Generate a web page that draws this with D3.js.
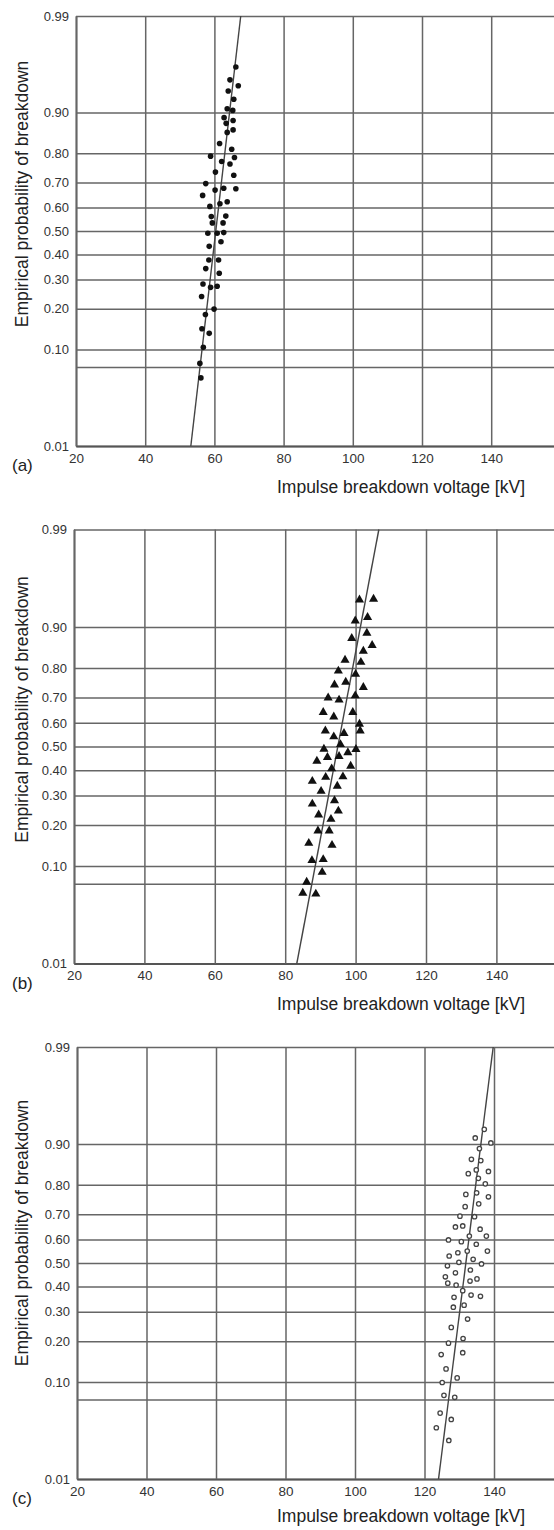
<!DOCTYPE html>
<html>
<head>
<meta charset="utf-8">
<script src="https://cdn.jsdelivr.net/npm/d3@7"></script>
<style>
  body { margin: 0; background: #fff; }
  svg { display: block; font-family: "Liberation Sans", Arial, Helvetica, sans-serif; }
  .axis text { fill: #333; }
  .axis .tick line, .grid { stroke: #666; stroke-width: 1.5; }
  .axis .domain { stroke: #555; stroke-width: 1.8; }
  .fit { stroke: #444; stroke-width: 1.4; fill: none; }
  .title { fill: #222; font-size: 17.5px; }
  .panel-label { fill: #222; font-size: 17px; }
</style>
</head>
<body>
<svg id="chart" width="554" height="1530"></svg>
<script>
/* global d3*/
// tick values
var probTicks = [0.01, 0.10, 0.20, 0.30, 0.40, 0.50, 0.60, 0.70, 0.80, 0.90, 0.99];
var probLabels = ["0.01", "0.10", "0.20", "0.30", "0.40", "0.50", "0.60", "0.70", "0.80", "0.90", "0.99"];
var extraGrid = [0.07];
var voltTicks = [20, 40, 60, 80, 100, 120, 140];
var panelNames = ["(a)", "(b)", "(c)"];

// (a) dots
var voltageA = [66.2, 64.5, 66.9, 64.0, 65.6, 63.7, 65.3, 62.8, 65.4, 63.4, 63.7, 65.4, 61.5, 65.0, 58.9, 65.8,
    62.1, 64.5, 60.3, 65.6, 57.5, 60.2, 62.7, 66.2, 56.6, 63.7, 58.7, 61.6, 59.1, 63.3, 59.4, 62.5, 58.1, 60.8,
    62.7, 61.9, 58.5, 58.4, 61.2, 57.5, 61.4, 56.7, 58.9, 60.8, 56.3, 59.9, 57.4, 56.4, 58.5, 56.8, 55.8, 56.1];
var probA = [0.962, 0.949, 0.942, 0.935, 0.923, 0.907, 0.904, 0.890, 0.884, 0.878, 0.857, 0.863, 0.828, 0.812,
    0.791, 0.787, 0.774, 0.766, 0.738, 0.727, 0.696, 0.671, 0.678, 0.676, 0.650, 0.624, 0.605, 0.616, 0.562,
    0.564, 0.535, 0.535, 0.490, 0.490, 0.493, 0.454, 0.434, 0.377, 0.377, 0.342, 0.324, 0.283, 0.271, 0.275,
    0.239, 0.199, 0.183, 0.145, 0.134, 0.104, 0.076, 0.056];

// (b) triangles
var voltageB = [101.1, 105.1, 99.9, 103.4, 103.2, 98.9, 104.7, 102.2, 97.0, 101.5, 95.1, 100.0, 94.0, 97.2, 102.2,
    92.2, 95.3, 99.9, 90.8, 93.8, 99.2, 101.1, 101.3, 91.4, 93.8, 96.7, 95.7, 91.0, 100.1, 89.0, 92.0, 95.3, 97.8,
    98.6, 93.2, 87.7, 91.5, 96.4, 90.2, 94.8, 94.0, 87.7, 95.1, 89.5, 93.0, 89.3, 92.5, 86.7, 93.3, 87.6, 90.8,
    90.5, 86.1, 85.0, 88.7];
var probB = [0.942, 0.943, 0.911, 0.917, 0.888, 0.877, 0.861, 0.847, 0.823, 0.817, 0.791, 0.781, 0.746, 0.755,
    0.737, 0.699, 0.691, 0.707, 0.643, 0.625, 0.643, 0.595, 0.567, 0.567, 0.542, 0.556, 0.509, 0.489, 0.488,
    0.438, 0.454, 0.458, 0.474, 0.417, 0.406, 0.355, 0.371, 0.373, 0.316, 0.336, 0.281, 0.269, 0.245, 0.232,
    0.218, 0.183, 0.183, 0.150, 0.145, 0.111, 0.113, 0.089, 0.073, 0.058, 0.057];

// (c) open circles
var voltageC = [137.2, 134.6, 139.1, 135.8, 133.5, 136.2, 132.6, 134.9, 138.4, 135.5, 137.5, 131.9, 135.0, 138.4,
    131.7, 135.6, 130.2, 134.4, 128.9, 131.0, 136.0, 132.9, 137.8, 126.9, 130.6, 134.9, 132.3, 138.1, 127.1,
    129.6, 134.0, 129.9, 136.4, 126.6, 133.2, 128.9, 126.0, 126.7, 129.1, 133.1, 135.1, 131.0, 133.4, 136.1,
    128.5, 131.4, 128.3, 132.4, 127.7, 131.1, 126.9, 131.0, 124.8, 126.2, 129.4, 125.1, 125.6, 128.7, 124.5,
    127.7, 123.4, 127.0];
var probC = [0.925, 0.911, 0.902, 0.891, 0.868, 0.865, 0.832, 0.842, 0.838, 0.819, 0.803, 0.770, 0.775, 0.762,
    0.728, 0.738, 0.693, 0.691, 0.651, 0.655, 0.642, 0.614, 0.614, 0.598, 0.591, 0.580, 0.551, 0.551, 0.530,
    0.544, 0.516, 0.503, 0.496, 0.488, 0.470, 0.458, 0.441, 0.414, 0.406, 0.423, 0.432, 0.383, 0.365, 0.360,
    0.356, 0.325, 0.317, 0.273, 0.244, 0.208, 0.194, 0.167, 0.162, 0.127, 0.108, 0.099, 0.077, 0.074, 0.053,
    0.046, 0.038, 0.028];

// normal fit lines (mean, sigma in kV)
var fitMean = [60.4, 94.95, 131.9];
var fitSigma = [3.1, 5.01, 3.38];

var voltages = [voltageA, voltageB, voltageC];
var probs = [probA, probB, probC];

////////////////////////////////////////////////////////////////////////////////
var svg = d3.select("#chart"),
    W = +svg.attr("width");

// plot area of each panel
var layout = [
    { top: 16, height: 430, left: 76, step: 69.2, titleY: -37, xTitle: 47 },
    { top: 529.5, height: 434, left: 74, step: 70.4, titleY: -37, xTitle: 46 },
    { top: 1047, height: 432, left: 77, step: 69.5, titleY: -30, xTitle: 43 }
];

// inverse normal cdf (Acklam), gives the probability paper scale
function probit(p) {
    var a = [-3.969683028665376e+01, 2.209460984245205e+02, -2.759285104469687e+02, 1.383577518672690e+02, -3.066479806614716e+01, 2.506628277459239e+00];
    var b = [-5.447609879822406e+01, 1.615858368580409e+02, -1.556989798598866e+02, 6.680131188771972e+01, -1.328068155288572e+01];
    var c = [-7.784894002430293e-03, -3.223964580411365e-01, -2.400758277161838e+00, -2.549732539343734e+00, 4.374664141464968e+00, 2.938163982698783e+00];
    var d = [7.784695709041462e-03, 3.224671290700398e-01, 2.445134137142996e+00, 3.754408661907416e+00];
    var plow = 0.02425, q, r;
    if (p < plow) {
        q = Math.sqrt(-2 * Math.log(p));
        return (((((c[0] * q + c[1]) * q + c[2]) * q + c[3]) * q + c[4]) * q + c[5]) /
            ((((d[0] * q + d[1]) * q + d[2]) * q + d[3]) * q + 1);
    }
    if (p > 1 - plow) {
        q = Math.sqrt(-2 * Math.log(1 - p));
        return -(((((c[0] * q + c[1]) * q + c[2]) * q + c[3]) * q + c[4]) * q + c[5]) /
            ((((d[0] * q + d[1]) * q + d[2]) * q + d[3]) * q + 1);
    }
    q = p - 0.5;
    r = q * q;
    return (((((a[0] * r + a[1]) * r + a[2]) * r + a[3]) * r + a[4]) * r + a[5]) * q /
        (((((b[0] * r + b[1]) * r + b[2]) * r + b[3]) * r + b[4]) * r + 1);
}

layout.forEach(drawPanel);

function drawPanel(L, i) {
    var bottom = L.top + L.height;

    var x = d3.scaleLinear()
        .domain([20, 20 + (W - L.left) * 20 / L.step])
        .range([L.left, W]);
    var yz = d3.scaleLinear()
        .domain([probit(0.01), probit(0.99)])
        .range([bottom, L.top]);
    var y = function (p) {
        return yz(probit(p));
    };

    var g = svg.append("g");

    // horizontal grid + probability labels
    g.append("g")
        .attr("class", "axis axis--y")
        .attr("transform", "translate(" + L.left + ",0)")
        .call(d3.axisLeft(yz)
            .tickValues(probTicks.map(probit))
            .tickFormat(function (d, k) {
                return probLabels[k];
            })
            .tickSize(-(W - L.left))
            .tickSizeOuter(0)
            .tickPadding(7))
        .attr("font-family", null)
        .attr("font-size", "13px");

    g.selectAll(".grid")
        .data(extraGrid)
        .enter().append("line")
        .attr("class", "grid")
        .attr("x1", L.left)
        .attr("x2", W)
        .attr("y1", y)
        .attr("y2", y);

    // vertical grid + voltage labels
    g.append("g")
        .attr("class", "axis axis--x")
        .attr("transform", "translate(0," + bottom + ")")
        .call(d3.axisBottom(x)
            .tickValues(voltTicks)
            .tickSize(-L.height)
            .tickSizeOuter(0)
            .tickPadding(7))
        .attr("font-family", null)
        .attr("font-size", "13.5px");

    // fitted normal line
    var line = d3.line()
        .x(function (p) {
            return x(fitMean[i] + fitSigma[i] * probit(p));
        })
        .y(y);
    g.append("path")
        .datum([0.01, 0.99])
        .attr("class", "fit")
        .attr("d", line);

    var pts = voltages[i].map(function (v, k) {
        return { v: v, p: probs[i][k] };
    });

    if (i === 0) {
        g.selectAll(".dot")
            .data(pts)
            .enter().append("circle")
            .attr("class", "dot")
            .attr("cx", function (d) { return x(d.v); })
            .attr("cy", function (d) { return y(d.p); })
            .attr("r", 2.8)
            .attr("fill", "#111");
    } else if (i === 1) {
        g.selectAll(".tri")
            .data(pts)
            .enter().append("path")
            .attr("class", "tri")
            .attr("d", d3.symbol().type(d3.symbolTriangle).size(36))
            .attr("transform", function (d) {
                return "translate(" + x(d.v) + "," + y(d.p) + ")";
            })
            .attr("fill", "#111");
    } else {
        g.selectAll(".ring")
            .data(pts)
            .enter().append("circle")
            .attr("class", "ring")
            .attr("cx", function (d) { return x(d.v); })
            .attr("cy", function (d) { return y(d.p); })
            .attr("r", 2.2)
            .attr("fill", "#fff")
            .attr("stroke", "#444")
            .attr("stroke-width", 1.3);
    }

    // titles
    g.append("text")
        .attr("class", "title")
        .attr("transform", "translate(28," + (L.top + L.height / 2 + L.titleY) + ") rotate(-90)")
        .attr("text-anchor", "middle")
        .text("Empirical probability of breakdown");

    g.append("text")
        .attr("class", "title")
        .attr("x", 401)
        .attr("y", bottom + L.xTitle)
        .attr("text-anchor", "middle")
        .text("Impulse breakdown voltage [kV]");

    g.append("text")
        .attr("class", "panel-label")
        .attr("x", 12)
        .attr("y", bottom + 25)
        .text(panelNames[i]);
}
</script>
</body>
</html>
